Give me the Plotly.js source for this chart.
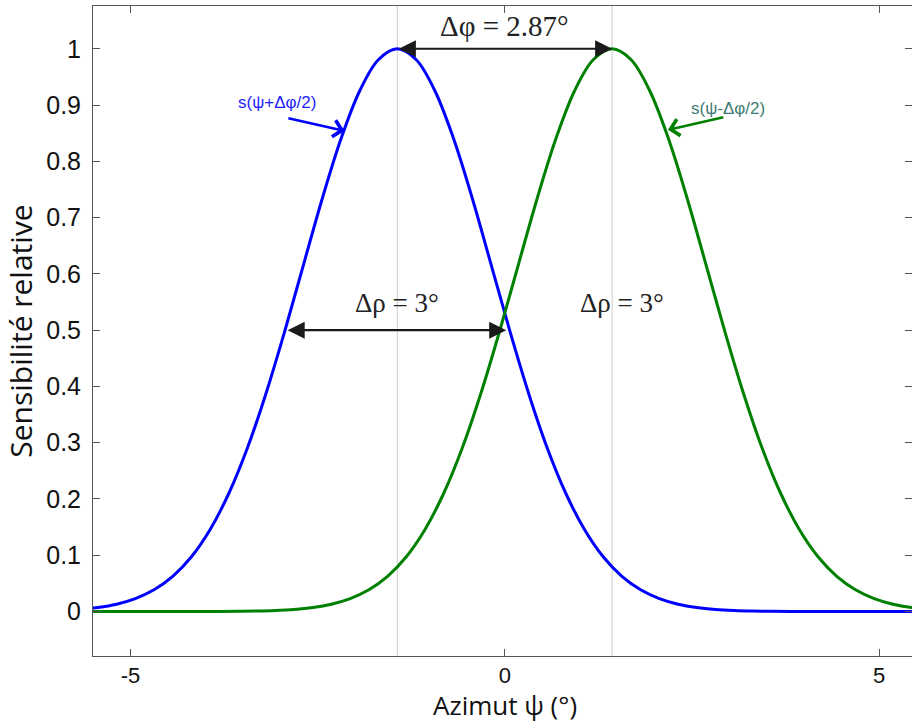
<!DOCTYPE html>
<html>
<head>
<meta charset="utf-8">
<script src="https://cdn.plot.ly/plotly-3.0.1.min.js"></script>
<style>html,body{margin:0;padding:0;background:#fff;}#chart{width:912px;height:724px;}</style>
</head>
<body>
<div id="chart"></div>
<script>
// Azimuth samples (degrees) for each curve
const azimutPlus = [-5.685, -5.435, -5.185, -4.935, -4.685, -4.435, -4.185, -3.935, -3.685, -3.435, -3.185, -2.935,
  -2.685, -2.435, -2.185, -1.935, -1.685, -1.435, -1.185, -0.935, -0.685, -0.435, -0.185, 0.065, 0.315, 0.565, 0.815,
  1.065, 1.315, 1.565, 1.815, 2.065, 2.315, 2.565, 2.815, 3.065, 3.315, 3.565, 3.815, 4.065, 4.315, 4.565, 4.815,
  5.065, 5.315, 5.565];

// s(psi + dphi/2) — blue
const sPlus = [0.0038, 0.0072, 0.0131, 0.0230, 0.0386, 0.0625, 0.0973, 0.1458, 0.2102, 0.2916, 0.3893, 0.4999,
  0.6179, 0.7349, 0.8409, 0.9259, 0.9809, 1.0000, 0.9809, 0.9259, 0.8409, 0.7349, 0.6179, 0.4999, 0.3893, 0.2916, 0.2102,
  0.1458, 0.0973, 0.0625, 0.0386, 0.0230, 0.0131, 0.0072, 0.0038, 0.0020, 0.0010, 0.0005, 0.0002, 0.0001, 0.0000, 0.0000, 0.0000,
  0.0000, 0.0000, 0.0000];

const azimutMinus = [-5.565, -5.315, -5.065, -4.815, -4.565, -4.315, -4.065, -3.815, -3.565, -3.315, -3.065, -2.815,
  -2.565, -2.315, -2.065, -1.815, -1.565, -1.315, -1.065, -0.815, -0.565, -0.315, -0.065, 0.185, 0.435, 0.685, 0.935,
  1.185, 1.435, 1.685, 1.935, 2.185, 2.435, 2.685, 2.935, 3.185, 3.435, 3.685, 3.935, 4.185, 4.435, 4.685, 4.935,
  5.185, 5.435, 5.685];

// s(psi - dphi/2) — green
const sMinus = [0.0000, 0.0000, 0.0000, 0.0000, 0.0000, 0.0000, 0.0001, 0.0002, 0.0005, 0.0010, 0.0020, 0.0038,
  0.0072, 0.0131, 0.0230, 0.0386, 0.0625, 0.0973, 0.1458, 0.2102, 0.2916, 0.3893, 0.4999, 0.6179, 0.7349, 0.8409, 0.9259,
  0.9809, 1.0000, 0.9809, 0.9259, 0.8409, 0.7349, 0.6179, 0.4999, 0.3893, 0.2916, 0.2102, 0.1458, 0.0973, 0.0625, 0.0386, 0.0230,
  0.0131, 0.0072, 0.0038];

const peakPositions = [-1.435, 1.435];
const halfWidthEnds = [-2.92, 0.02];
const xTickVals = [-5, 0, 5];
const xTickText = ["-5", "0", "5"];
const yTickVals = [0, 0.1, 0.2, 0.3, 0.4, 0.5, 0.6, 0.7, 0.8, 0.9, 1];
const yTickText = ["0", "0.1", "0.2", "0.3", "0.4", "0.5", "0.6", "0.7", "0.8", "0.9", "1"];

const BLUE = "rgb(0,0,255)";
const GREEN = "rgb(0,128,0)";
const SANS = "Liberation Sans, Arial, sans-serif";
const TITLE_FONT = "Open Sans, Noto Sans, sans-serif";
const SERIF = "Liberation Serif, Times New Roman, serif";

const traces = [
  {x: azimutPlus, y: sPlus, mode: "lines", line: {color: BLUE, width: 3, shape: "spline", smoothing: 1}, hoverinfo: "skip", showlegend: false},
  {x: azimutMinus, y: sMinus, mode: "lines", line: {color: GREEN, width: 3, shape: "spline", smoothing: 1}, hoverinfo: "skip", showlegend: false}
];

const shapes = peakPositions.map(p => ({
  type: "line", xref: "x", yref: "paper", x0: p, x1: p, y0: 0, y1: 1,
  line: {color: "#cccccc", width: 1}, layer: "below"
}));

const dbl = {arrowhead: 2, startarrowhead: 2, arrowside: "end+start", arrowwidth: 2.2, arrowsize: 1.55, startarrowsize: 1.55,
  arrowcolor: "#1a1a1a", standoff: 0, startstandoff: 0, text: "", showarrow: true,
  xref: "x", yref: "y", axref: "x", ayref: "y"};

const annotations = [
  // Δφ double arrow
  Object.assign({x: peakPositions[1], y: 1, ax: peakPositions[0], ay: 1}, dbl),
  {x: 0, y: 1.04, xref: "x", yref: "y", text: "Δφ = 2.87°", showarrow: false, font: {family: SERIF, size: 29, color: "#222"}},
  // Δρ double arrow
  Object.assign({x: halfWidthEnds[1], y: 0.5, ax: halfWidthEnds[0], ay: 0.5}, dbl),
  {x: -1.44, y: 0.548, xref: "x", yref: "y", text: "Δρ = 3°", showarrow: false, font: {family: SERIF, size: 27, color: "#222"}},
  {x: 1.56, y: 0.548, xref: "x", yref: "y", text: "Δρ = 3°", showarrow: false, font: {family: SERIF, size: 27, color: "#222"}},
  // curve labels
  {x: -3.04, y: 0.905, xref: "x", yref: "y", text: "s(ψ+Δφ/2)", showarrow: false, font: {family: SANS, size: 17, color: "rgb(30,30,255)"}},
  {x: -2.14, y: 0.854, ax: -2.91, ay: 0.877, xref: "x", yref: "y", axref: "x", ayref: "y",
   text: "", showarrow: true, arrowhead: 4, arrowwidth: 2.5, arrowsize: 1.3, arrowcolor: BLUE, standoff: 0},
  {x: 2.98, y: 0.894, xref: "x", yref: "y", text: "s(ψ-Δφ/2)", showarrow: false, font: {family: SANS, size: 17, color: "#3f7a72"}},
  {x: 2.18, y: 0.856, ax: 2.94, ay: 0.879, xref: "x", yref: "y", axref: "x", ayref: "y",
   text: "", showarrow: true, arrowhead: 4, arrowwidth: 2.5, arrowsize: 1.3, arrowcolor: GREEN, standoff: 0},
  // x-axis title
  {x: 0, y: -0.104, xref: "x", yref: "paper", yanchor: "bottom", text: "Azimut ψ (°)", showarrow: false, borderpad: 0,
   font: {family: TITLE_FONT, size: 26, color: "#111"}}
];

const axisCommon = {
  showgrid: false, zeroline: false, showline: true, mirror: "ticks", linecolor: "#555", linewidth: 1,
  ticks: "inside", ticklen: 7, tickcolor: "#555", tickwidth: 1,
  tickfont: {family: SANS, size: 25, color: "#111"}
};

const layout = {
  width: 912, height: 724,
  margin: {l: 93, r: 0, t: 6, b: 68},
  paper_bgcolor: "#fff", plot_bgcolor: "#fff",
  xaxis: Object.assign({}, axisCommon, {
    range: [-5.5, 5.44], tickmode: "array", tickvals: xTickVals, ticktext: xTickText,
    ticklabelstandoff: 0,
    tickfont: {family: SANS, size: 22, color: "#111"}
  }),
  yaxis: Object.assign({}, axisCommon, {
    range: [-0.079, 1.076], tickmode: "array", tickvals: yTickVals, ticktext: yTickText,
    ticklabelstandoff: 6,
    title: {text: "Sensibilité relative", font: {family: TITLE_FONT, size: 30, color: "#111"}, standoff: 6}
  }),
  shapes: shapes,
  annotations: annotations,
  showlegend: false
};

Plotly.newPlot("chart", traces, layout, {displayModeBar: false, staticPlot: true});
</script>
</body>
</html>
